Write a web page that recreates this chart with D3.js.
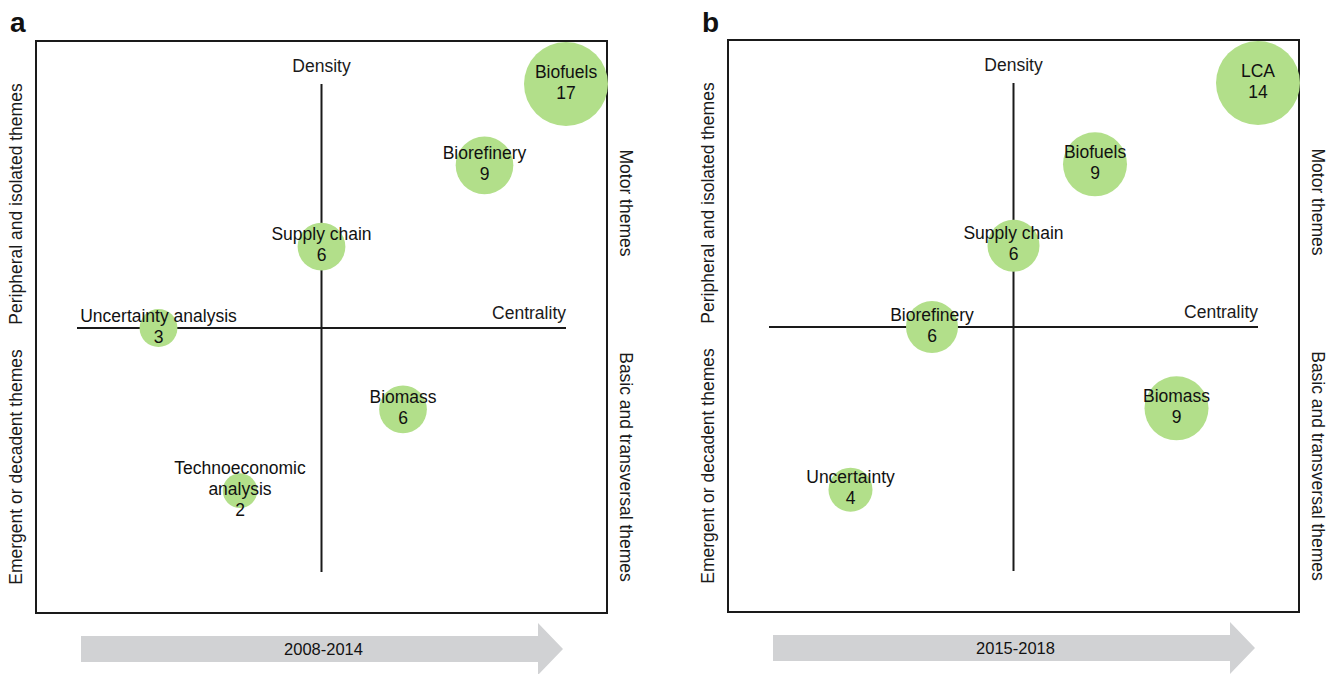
<!DOCTYPE html>
<html>
<head>
<meta charset="utf-8">
<script src="https://cdn.jsdelivr.net/npm/d3@7"></script>
<style>
  body { margin: 0; background: #fff; }
  svg { display: block; font-family: "Liberation Sans", Arial, sans-serif; }
</style>
</head>
<body>
<svg id="chart" width="1335" height="674"></svg>
<script>
// period a: 2008-2014
const themesA = ["Biofuels", "Biorefinery", "Supply chain", "Uncertainty analysis", "Biomass", "Technoeconomic analysis"];
const centralityA = [3, 2, 0, -2, 1, -1];
const densityA = [3, 2, 1, 0, -1, -2];
const docsA = [17, 9, 6, 3, 6, 2];

// period b: 2015-2018
const themesB = ["LCA", "Biofuels", "Supply chain", "Biorefinery", "Biomass", "Uncertainty"];
const centralityB = [3, 1, 0, -1, 2, -2];
const densityB = [3, 2, 1, 0, -1, -2];
const docsB = [14, 9, 6, 6, 9, 4];

const panelLetters = ["a", "b"];
const periods = ["2008-2014", "2015-2018"];
const quadrantLabels = ["Peripheral and isolated themes", "Emergent or decadent themes", "Motor themes", "Basic and transversal themes"];

const svg = d3.select("#chart");
const W = 572, H = 572;
const green = "#b2df8a", ink = "#1a1a1a";

const panels = [
  { left: 36, top: 41, themes: themesA, cx: centralityA, cy: densityA, n: docsA },
  { left: 728, top: 40, themes: themesB, cx: centralityB, cy: densityB, n: docsB }
];

/**
 * Wrap bubble label into lines, then stack label + count around the centre.
 */
function wrapLabel(text, width, lineHeight) {
  text.each(function(d) {
    const t = d3.select(this);
    const words = d.name.split(/\s+/).reverse();
    let lines = [], line = [], word;
    const probe = t.append("tspan");
    while ((word = words.pop())) {
      line.push(word);
      probe.text(line.join(" "));
      if (probe.node().getComputedTextLength() > width && line.length > 1) {
        line.pop();
        lines.push(line.join(" "));
        line = [word];
      }
    }
    lines.push(line.join(" "));
    probe.remove();
    lines.push(String(d.n));
    // block sits a touch above the bubble centre
    const start = -((lines.length - 1) * lineHeight) / 2 - 2;
    lines.forEach((l, i) => {
      t.append("tspan")
        .attr("x", 0)
        .attr("y", start + i * lineHeight)
        .attr("dy", "0.35em")
        .text(l);
    });
  });
}

panels.forEach((p, pi) => {
  const g = svg.append("g").attr("transform", `translate(${p.left},${p.top})`);

  const x = d3.scaleLinear().domain([-3, 3]).range([41, 530]);
  const y = d3.scaleLinear().domain([-3, 3]).range([531, 43]);
  const r = d3.scaleLinear().domain([0, d3.max(p.n)]).range([14, 42]);

  // frame
  g.append("rect")
    .attr("width", W - 1).attr("height", H)
    .attr("fill", "none").attr("stroke", ink).attr("stroke-width", 2);

  // crosshair
  g.append("line")
    .attr("x1", x(-3)).attr("x2", x(3)).attr("y1", y(0)).attr("y2", y(0))
    .attr("stroke", ink).attr("stroke-width", 2);
  g.append("line")
    .attr("x1", x(0)).attr("x2", x(0)).attr("y1", y(-3)).attr("y2", y(3))
    .attr("stroke", ink).attr("stroke-width", 2);

  g.append("text")
    .attr("x", x(0)).attr("y", y(3) - 12)
    .attr("text-anchor", "middle").attr("font-size", 17.5).attr("fill", ink)
    .text("Density");
  g.append("text")
    .attr("x", x(3)).attr("y", y(0) - 9)
    .attr("text-anchor", "end").attr("font-size", 17.5).attr("fill", ink)
    .text("Centrality");

  // quadrant labels
  const side = [
    { x: -20, y: y(0) - 124, rot: -90, t: quadrantLabels[0] },
    { x: -20, y: y(0) + 139, rot: -90, t: quadrantLabels[1] },
    { x: W + 18, y: y(0) - 125, rot: 90, t: quadrantLabels[2] },
    { x: W + 18, y: y(0) + 139, rot: 90, t: quadrantLabels[3] }
  ];
  g.selectAll(".side").data(side).join("text")
    .attr("class", "side")
    .attr("transform", d => `translate(${d.x},${d.y}) rotate(${d.rot})`)
    .attr("text-anchor", "middle").attr("dy", "0.35em")
    .attr("font-size", 17.5).attr("fill", ink)
    .text(d => d.t);

  // panel letter
  svg.append("text")
    .attr("x", p.left - 26).attr("y", 32)
    .attr("font-size", 28).attr("font-weight", "bold").attr("fill", "#111")
    .text(panelLetters[pi]);

  const data = p.themes.map((name, i) => ({ name, cx: p.cx[i], cy: p.cy[i], n: p.n[i] }));

  const nodes = g.selectAll(".theme").data(data).join("g")
    .attr("class", "theme")
    .attr("transform", d => `translate(${x(d.cx)},${y(d.cy)})`);
  nodes.append("circle")
    .attr("r", d => r(d.n))
    .attr("fill", green);
  nodes.append("text")
    .attr("text-anchor", "middle").attr("font-size", 17.5).attr("fill", "#111")
    .call(wrapLabel, 170, 21);

  // period arrow
  const ax0 = 45, ax1 = 502, tip = 527, ay = 608, bh = 13, hh = 26;
  const arrow = d3.path();
  arrow.moveTo(ax0, ay - bh);
  arrow.lineTo(ax1, ay - bh);
  arrow.lineTo(ax1, ay - hh);
  arrow.lineTo(tip, ay);
  arrow.lineTo(ax1, ay + hh);
  arrow.lineTo(ax1, ay + bh);
  arrow.lineTo(ax0, ay + bh);
  arrow.closePath();
  g.append("path").attr("d", arrow.toString()).attr("fill", "#d1d2d4");
  g.append("text")
    .attr("x", (ax0 + ax1) / 2 + 14).attr("y", ay).attr("dy", "0.35em")
    .attr("text-anchor", "middle").attr("font-size", 16.5).attr("fill", "#111")
    .text(periods[pi]);
});
</script>
</body>
</html>
